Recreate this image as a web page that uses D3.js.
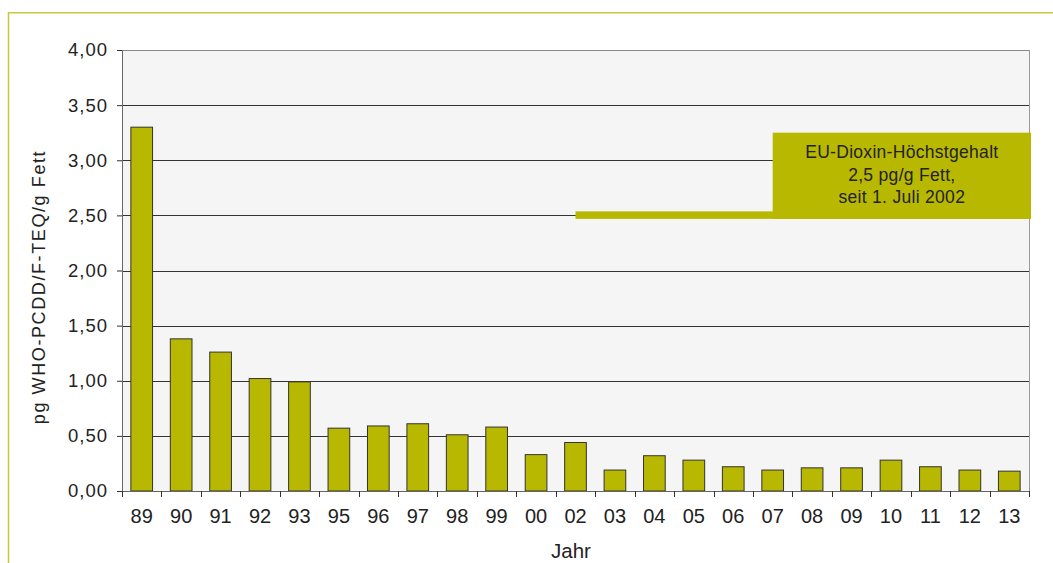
<!DOCTYPE html>
<html>
<head>
<meta charset="utf-8">
<script src="https://cdn.jsdelivr.net/npm/d3@7"></script>
<style>
  body { margin: 0; background: #fff; }
  text { font-family: "Liberation Sans", Arial, sans-serif; fill: #222; }
</style>
</head>
<body>
<script>
// data
var years = ["89","90","91","92","93","95","96","97","98","99","00","02","03","04","05","06","07","08","09","10","11","12","13"];
var values = [3.30,1.38,1.26,1.02,0.99,0.57,0.59,0.61,0.51,0.58,0.33,0.44,0.19,0.32,0.28,0.22,0.19,0.21,0.21,0.28,0.22,0.19,0.18];
var yTicks = [0,0.5,1,1.5,2,2.5,3,3.5,4];
var limitValue = 2.5;
var limitFrom = "02";
var boxFrom = "07";
var boxTop = 3.25;
var boxLines = ["EU-Dioxin-Höchstgehalt", "2,5 pg/g Fett,", "seit 1. Juli 2002"];

var olive = "#b8b800";

// margins
var margin = {top: 50, right: 24, bottom: 72, left: 122};
var outer_width = 1053;
var outer_height = 563;
var w = outer_width - margin.left - margin.right;
var h = outer_height - margin.top - margin.bottom;

var root = d3.select("body").append("svg")
  .attr("width", outer_width)
  .attr("height", outer_height);

// outer frame
root.append("path")
  .attr("d", "M8.5,563 V12.75 H1053")
  .attr("fill", "none")
  .attr("stroke", "#c8c840")
  .attr("stroke-width", 1.5);

var svg = root.append("g")
  .attr("transform", "translate(" + margin.left + "," + margin.top + ")");

var xScale = d3.scaleBand().domain(years).range([0, w]).paddingInner(0.45).paddingOuter(0.225);
var xEdges = d3.scaleBand().domain(years).range([0, w]).padding(0);
var yScale = d3.scaleLinear().domain([0, 4]).range([h, 0]);

// plot background
svg.append("rect")
  .attr("width", w).attr("height", h)
  .attr("fill", "#f5f5f5");

// gridlines
svg.selectAll(".grid").data(yTicks.slice(1)).enter()
  .append("line")
  .attr("x1", 0).attr("x2", w)
  .attr("y1", function(d) { return Math.round(yScale(d)) + 0.5; })
  .attr("y2", function(d) { return Math.round(yScale(d)) + 0.5; })
  .attr("stroke", function(d, i) { return i == yTicks.length - 2 ? "#888" : "#333"; })
  .attr("stroke-width", 1);

// right border
svg.append("line")
  .attr("x1", w + 0.5).attr("x2", w + 0.5)
  .attr("y1", 0).attr("y2", h)
  .attr("stroke", "#999");

// bars
svg.selectAll(".bar").data(values).enter()
  .append("rect")
  .attr("class", "bar")
  .attr("x", function(d, i) { return xScale(years[i]); })
  .attr("y", function(d) { return yScale(d); })
  .attr("width", xScale.bandwidth())
  .attr("height", function(d) { return h - yScale(d); })
  .attr("fill", olive)
  .attr("stroke", "#333")
  .attr("stroke-width", 1);

// y axis
var yAxis = d3.axisLeft(yScale)
  .tickValues(yTicks)
  .tickSize(5)
  .tickSizeOuter(0)
  .tickPadding(9)
  .tickFormat(function(d) { return d3.format(".2f")(d).replace(".", ","); });
var gy = svg.append("g").call(yAxis);
gy.select(".domain").attr("stroke", "#666");
gy.selectAll(".tick line").attr("stroke", "#333");
gy.selectAll("text").style("font-size", "18.5px").style("letter-spacing", "1px").attr("fill", "#222");

// x axis: ticks between categories
var gx = svg.append("g").attr("transform", "translate(0," + h + ")");
gx.append("line")
  .attr("x1", 0).attr("x2", w).attr("y1", 0.5).attr("y2", 0.5)
  .attr("stroke", "#666");
var edges = years.map(function(d) { return xEdges(d); }).concat([w]);
gx.selectAll(".xt").data(edges).enter()
  .append("line")
  .attr("x1", function(d) { return Math.round(d) + 0.5; })
  .attr("x2", function(d) { return Math.round(d) + 0.5; })
  .attr("y1", 0).attr("y2", 6)
  .attr("stroke", "#333");
gx.selectAll(".xl").data(years).enter()
  .append("text")
  .attr("x", function(d) { return xEdges(d) + xEdges.bandwidth() / 2; })
  .attr("y", 32)
  .attr("text-anchor", "middle")
  .style("font-size", "20px")
  .text(function(d) { return d; });

// axis titles
root.append("text")
  .attr("x", 571)
  .attr("y", 558)
  .attr("text-anchor", "middle")
  .style("font-size", "20.5px")
  .text("Jahr");

root.append("text")
  .attr("transform", "translate(45," + 287 + ") rotate(-90)")
  .attr("text-anchor", "middle")
  .style("font-size", "18px")
  .style("letter-spacing", "1.6px")
  .text("pg WHO-PCDD/F-TEQ/g Fett");

// limit line and label box
var lx = xEdges(limitFrom) + xEdges.bandwidth() / 2;
var bx = xEdges(boxFrom) + xEdges.bandwidth() / 2;
svg.append("rect")
  .attr("x", lx).attr("y", yScale(limitValue) - 4)
  .attr("width", w + 2 - lx).attr("height", 7.5)
  .attr("fill", olive);
svg.append("rect")
  .attr("x", bx).attr("y", yScale(boxTop))
  .attr("width", w + 2 - bx).attr("height", yScale(limitValue) + 3.5 - yScale(boxTop))
  .attr("fill", olive);
svg.selectAll(".bl").data(boxLines).enter()
  .append("text")
  .attr("x", (bx + w + 2) / 2)
  .attr("y", function(d, i) { return yScale(boxTop) + 25.5 + i * 22.5; })
  .attr("text-anchor", "middle")
  .style("font-size", "17.5px")
  .style("letter-spacing", "0.3px")
  .text(function(d) { return d; });
</script>
</body>
</html>
